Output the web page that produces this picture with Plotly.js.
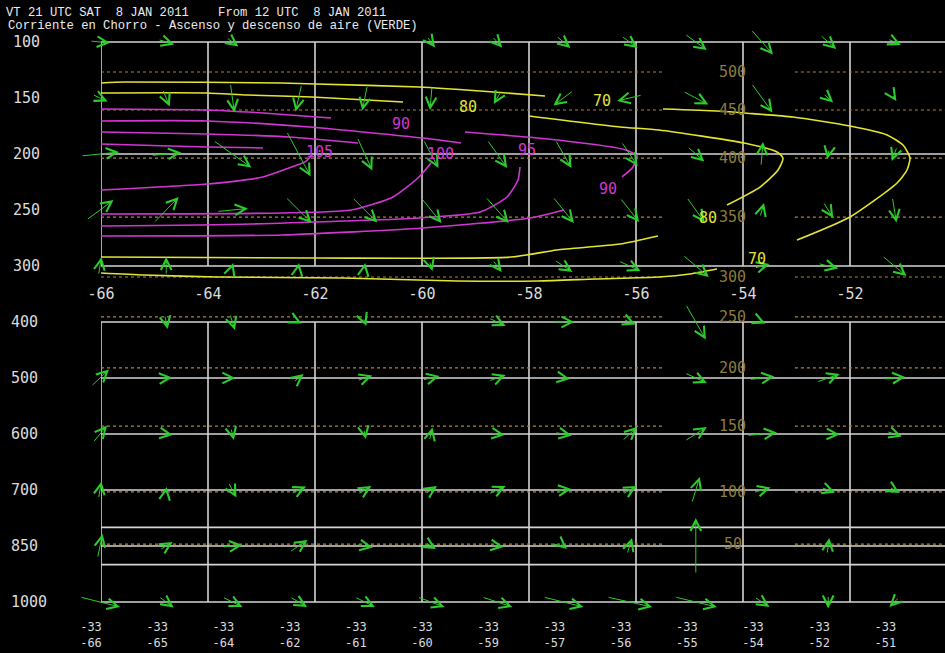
<!DOCTYPE html>
<html><head><meta charset="utf-8">
<script src="https://cdn.plot.ly/plotly-3.0.1.min.js"></script>
<style>html,body{margin:0;padding:0;background:#000;}#chart{width:945px;height:653px;}</style>
</head><body><div id="chart"></div>
<script>
// ---------------- DATA ----------------
const titleLine1 = 'VT 21 UTC SAT  8 JAN 2011    From 12 UTC  8 JAN 2011';
const titleLine2 = 'Corriente en Chorro - Ascenso y descenso de aire (VERDE)';

const topLevels = [100, 150, 200, 250, 300];          // hPa, upper panel rows
const topGridLevels = [100, 200, 300];
const bottomLevels = [400, 500, 600, 700, 850, 1000]; // hPa, lower panel rows
const bottomExtraLines = [800, 900];
const lonTicks = [-66, -64, -62, -60, -58, -56, -54, -52];
const sectionLat = [-33, -33, -33, -33, -33, -33, -33, -33, -33, -33, -33, -33, -33];
const sectionLon = [-66, -65, -64, -62, -61, -60, -59, -57, -56, -55, -54, -52, -51];

// flight levels (dotted) and the pressure where they sit
const flTopLabels = [500, 450, 400, 350, 300];
const flTopPres   = [126.8, 160.7, 203.6, 256.3, 309.8];
const flBotLabels = [250, 200, 150, 100, 50];
const flBotPres   = [391, 482, 586, 705, 845];

// isotachs (kt): lon / pressure, null separates label gaps
const iso70Lon  = [-66, -65.551, -62.617, -61.981, -60.056, -58.916, -57.701, null,
  -55.495, -54.486, -53.981, -53.065, -52.0, -51.308, -51.009, -50.879, -50.935, -51.121, -52.0, -52.991, null,
  -54.486, -54.991, -55.570, -56.766, -57.832, -59.346, -61.477, -63.832, -65.196, -66];
const iso70Pres = [136.6, 135.7, 136.6, 137.5, 140.2, 143.7, 148.2, null,
  159.8, 161.6, 163.4, 167.0, 175.0, 183.0, 192.0, 203.6, 214.3, 225.9, 256.2, 276.8, null,
  302.7, 307.1, 309.8, 311.6, 313.4, 313.4, 310.7, 309.8, 308.0, 306.2];
const iso80Lon  = [-66, -64.019, -63.271, -62.056, -60.355, null,
  -58.0, -56.299, -55.570, -53.981, -53.364, -53.252, -53.346, -53.682, -54.299, null,
  -55.589, -56.299, -57.477, -58.336, -61.981, -66];
const iso80Pres = [145.5, 145.5, 147.3, 149.1, 153.6, null,
  166.1, 175.9, 178.6, 190.2, 198.2, 203.6, 214.3, 229.5, 245.5, null,
  273.2, 280.4, 285.7, 292.0, 292.9, 292.0];
const iso90Lon  = [-66, -64.019, -62.972, -61.701, null,
  -59.196, -57.458, -56.187, -55.981, -56.056, -56.262, null,
  -57.346, -57.981, -59.981, -62.617, -66];
const iso90Pres = [159.8, 160.7, 163.4, 167.9, null,
  180.4, 187.5, 196.4, 201.8, 211.6, 220.5, null,
  250.0, 257.1, 266.1, 272.3, 273.2];
const iso95Lon  = [-66, -64.019, -62.112, -59.981, -59.271, null,
  -58.168, -58.206, -58.411, -58.916, -60.056, -63.196, -66];
const iso95Pres = [170.5, 170.5, 175.9, 185.7, 190.2, null,
  211.6, 223.2, 238.4, 251.8, 257.1, 262.5, 264.3];
const iso100Lon  = [-66, -64.019, -62.486, -61.196, null, -59.832, -60.056, -60.542, -61.327, -62.617, -66];
const iso100Pres = [180.4, 182.1, 184.8, 190.2, null, 208.0, 220.5, 238.4, 250.0, 252.7, 253.6];
const iso105Lon  = [-66, -64.710, -64.019, -62.972, null, -62.056, -62.187, -62.486, -62.972, -64.019, -66];
const iso105Pres = [191.1, 192.9, 193.7, 194.6, null, 200.9, 207.1, 212.5, 220.5, 226.8, 232.1];

const isoLabelText = ['70', '80', '70', '80', '90', '105', '100', '95', '90'];
const isoLabelLon  = [-56.64, -59.14, -53.74, -54.65, -60.39, -61.91, -59.66, -58.04, -56.53];
const isoLabelPres = [152.7, 157.8, 294.0, 256.8, 173.5, 197.9, 200.0, 196.4, 231.5];

// wind vectors (u east, v up), per row, per section point
const windTopU = [
  [20, 16, 12, 1, 2, 8, 10, 14, 16, 22, 22, 16, 13],
  [15, 7, 4, -6, -5, -2, -7, -20, -25, 25, 21, 10, 4],
  [38, 30, 38, 24, 15, 15, 20, 16, 16, 17, 2, -2, -5],
  [27, 25, 31, 26, 25, 21, 23, 21, 19, 18, 4, 10, 4],
  [3, 0, 2, 1, 1, 3, 9, 18, 22, 26, 15, 20, 24]];
const windTopV = [
  [-2, -5, -9, -5, -5, -11, -11, -12, -12, -16, -25, -14, -6],
  [-7, -17, -29, -27, -25, -24, -12, -15, -6, -13, -29, -9, -6],
  [4, 3, -27, -45, -33, -28, -28, -28, -24, -15, 24, -10, -14],
  [20, 26, 3, -26, -25, -26, -26, -26, -24, -25, 14, -16, -25],
  [18, 18, 6, 6, 6, -10, -12, -12, -10, -22, 4, -5, -20]];
const windBotU = [
  [0, 3, 5, 6, 3, 0, 17, 22, 12, 20, 7, 5, 5],
  [18, 12, 6, 10, 15, 17, 17, 13, 5, 22, 25, 23, 22],
  [14, 13, 3, 2, 2, 3, 15, 17, 15, 22, 30, 23, 15],
  [3, 1, 8, 15, 13, 12, 17, 16, 14, 8, 17, 14, 10],
  [5, 13, 20, 18, 16, 10, 13, 7, 5, 0, 1, 2, 5],
  [40, 15, 20, 17, 20, 27, 30, 40, 45, 42, 15, 0, -10]];
const windBotV = [
  [0, -14, -16, -3, -8, 0, -8, 0, -5, -35, -3, -2, -2],
  [17, 1, 0, 8, 5, 4, 6, -2, 0, -10, 3, 8, 2],
  [17, -2, -12, -2, -10, 13, -2, -3, 14, 14, 3, -1, -5],
  [17, 6, -15, 7, 8, 8, 8, 2, 8, 26, 5, -5, -6],
  [24, 8, 2, 12, -3, -6, -2, -6, 16, 56, 0, 16, 0],
  [-10, -11, -10, -10, -10, -10, -10, -10, -10, -10, -10, -13, -10]];

// ---------------- GEOMETRY ----------------
const W = 945, H = 653;
const LON0_PX = 101, PX_PER_DEG = 53.5;
const COL0_PX = 100, COL_PX = 66.2;
const ROW_PX = 56;
const TOP0_PX = 42, BOT0_PX = 322;
const topPAtPx = py => 100 + (py - TOP0_PX) * 50 / ROW_PX;
const botJAtPx = py => (py - BOT0_PX) / ROW_PX;
const xMax = -66 + (W - LON0_PX) / PX_PER_DEG;
function lvl(p) {
  const L = bottomLevels;
  if (p <= L[1]) return (p - L[0]) / (L[1] - L[0]);
  for (let i = 1; i < L.length; i++) if (p <= L[i]) return i - 1 + (p - L[i - 1]) / (L[i] - L[i - 1]);
  const n = L.length - 1; return n + (p - L[n]) / (L[n] - L[n - 1]);
}

const WHITE = '#d4d4d4', YEL = '#e4e432', MAG = '#d236d2', GRN = '#2ccc2c', FLC = '#a8863a', FLT = '#8c7c3a';
const LCD = 'DejaVu Sans Mono, monospace';

const traces = [];
function addLines(xs, ys, xa, ya, color, width, dash) {
  traces.push({type: 'scatter', mode: 'lines', x: xs, y: ys, xaxis: xa, yaxis: ya,
    line: {color: color, width: width, dash: dash || 'solid'}, hoverinfo: 'skip', showlegend: false, connectgaps: false});
}

// white grid, upper panel
(function () {
  const xs = [], ys = [];
  lonTicks.forEach(l => { xs.push(l, l, null); ys.push(topGridLevels[0], topGridLevels[topGridLevels.length - 1], null); });
  topGridLevels.forEach(p => { xs.push(-66, xMax, null); ys.push(p, p, null); });
  addLines(xs, ys, 'x', 'y', WHITE, 1.6);
})();
// white grid, lower panel (lon axis x3 on the lower panel)
(function () {
  const xs = [], ys = [];
  lonTicks.forEach(l => { xs.push(l, l, null); ys.push(lvl(bottomLevels[0]), lvl(bottomLevels[bottomLevels.length - 1]), null); });
  bottomLevels.concat(bottomExtraLines).forEach(p => { xs.push(-66, xMax, null); ys.push(lvl(p), lvl(p), null); });
  addLines(xs, ys, 'x3', 'y2', WHITE, 1.6);
})();
// flight level dotted lines
const flLabelLon = -54.19, gapL = -55.49, gapR = -53.03;
(function () {
  let xs = [], ys = [];
  flTopPres.forEach(p => { xs.push(-66, gapL, null, gapR, xMax, null); ys.push(p, p, null, p, p, null); });
  addLines(xs, ys, 'x', 'y', FLC, 1.2, '3px,3px');
  xs = []; ys = [];
  flBotPres.forEach(p => { const j = lvl(p); xs.push(-66, gapL, null, gapR, xMax, null); ys.push(j, j, null, j, j, null); });
  addLines(xs, ys, 'x3', 'y2', FLC, 1.2, '3px,3px');
})();
// isotachs
[[iso70Lon, iso70Pres, YEL], [iso80Lon, iso80Pres, YEL], [iso90Lon, iso90Pres, MAG],
 [iso95Lon, iso95Pres, MAG], [iso100Lon, iso100Pres, MAG], [iso105Lon, iso105Pres, MAG]].forEach(c => {
  traces.push({type: 'scatter', mode: 'lines', x: c[0], y: c[1], xaxis: 'x', yaxis: 'y',
    line: {color: c[2], width: 1.6, shape: 'spline', smoothing: 0.6}, hoverinfo: 'skip', showlegend: false, connectgaps: false});
});
// section points (bottom panel anchor for the index axis)
(function () {
  const xs = [], ys = [];
  bottomLevels.forEach((p, r) => sectionLon.forEach((l, k) => { xs.push(k); ys.push(lvl(p)); }));
  traces.push({type: 'scatter', mode: 'markers', x: xs, y: ys, xaxis: 'x2', yaxis: 'y2',
    marker: {size: 1, color: 'rgba(0,0,0,0)'}, hoverinfo: 'skip', showlegend: false});
})();

const annotations = [];
// wind arrows
function addWinds(levels, U, V, yref, toY, perPxY) {
  levels.forEach((p, r) => {
    U[r].forEach((u, k) => {
      const v = V[r][k];
      if (u === 0 && v === 0) return;
      const y0 = toY(p);
      const dx = (u / 2) / COL_PX, dy = (v / 2) * perPxY;
      annotations.push({xref: 'x2', yref: yref, axref: 'x2', ayref: yref,
        x: k + dx, y: y0 - dy, ax: k - dx, ay: y0 + dy, text: '', showarrow: true,
        arrowhead: 5, arrowsize: 2.1, arrowwidth: 1, arrowcolor: GRN, standoff: 0, startstandoff: 0});
    });
  });
}
addWinds(topLevels, windTopU, windTopV, 'y', p => p, 50 / ROW_PX);
addWinds(bottomLevels, windBotU, windBotV, 'y2', p => lvl(p), 1 / ROW_PX);

// isotach labels
isoLabelText.forEach((t, i) => {
  annotations.push({xref: 'x', yref: 'y', x: isoLabelLon[i], y: isoLabelPres[i], text: t, showarrow: false,
    font: {family: LCD, size: 15, color: (+t >= 85 ? MAG : YEL)}, xanchor: 'center', yanchor: 'middle'});
});
// flight level labels
flTopLabels.forEach((t, i) => annotations.push({xref: 'x', yref: 'y', x: flLabelLon, y: flTopPres[i], text: String(t),
  showarrow: false, font: {family: LCD, size: 15, color: FLT}, xanchor: 'center', yanchor: 'middle'}));
flBotLabels.forEach((t, i) => annotations.push({xref: 'x3', yref: 'y2', x: flLabelLon, y: lvl(flBotPres[i]), text: String(t),
  showarrow: false, font: {family: LCD, size: 15, color: FLT}, xanchor: 'center', yanchor: 'middle'}));
// pressure labels
topLevels.forEach(p => annotations.push({xref: 'paper', yref: 'y', x: 11 / W, y: p, text: String(p), showarrow: false,
  xanchor: 'left', yanchor: 'middle', font: {family: LCD, size: 15, color: '#dcdcdc'}}));
bottomLevels.forEach(p => annotations.push({xref: 'paper', yref: 'y2', x: 9 / W, y: lvl(p), text: String(p), showarrow: false,
  xanchor: 'left', yanchor: 'middle', font: {family: LCD, size: 15, color: '#dcdcdc'}}));
// second title line
annotations.push({xref: 'paper', yref: 'paper', x: 6 / W, y: 1 - 26 / H, xanchor: 'left', yanchor: 'middle',
  text: titleLine2.replace(/ /g, '\u00a0'), showarrow: false, font: {family: 'Liberation Mono, monospace', size: 12.2, color: '#ececec'}});

const noAxis = {showgrid: false, zeroline: false, showline: false, ticks: ''};
const layout = {
  width: W, height: H, margin: {l: 0, r: 0, t: 0, b: 0, pad: 0},
  paper_bgcolor: '#000', plot_bgcolor: '#000', showlegend: false, hovermode: false,
  title: {text: titleLine1.replace(/ /g, '\u00a0'), x: 6 / W, xanchor: 'left', y: 1 - 12 / H, yanchor: 'middle',
    font: {family: 'Liberation Mono, monospace', size: 12.2, color: '#ececec'}},
  xaxis: Object.assign({domain: [LON0_PX / W, 1], range: [-66, xMax], anchor: 'y',
    tickvals: lonTicks, ticktext: lonTicks.map(v => String(v)),
    tickfont: {family: LCD, size: 15, color: '#dcdcdc'}}, noAxis),
  yaxis: Object.assign({domain: [1 - 283 / H, 1 - 30 / H], range: [topPAtPx(283), topPAtPx(30)], anchor: 'x',
    showticklabels: false}, noAxis),
  xaxis2: Object.assign({domain: [0, 1], range: [-COL0_PX / COL_PX, (W - COL0_PX) / COL_PX], anchor: 'y2',
    tickvals: sectionLon.map((l, k) => k),
    ticktext: sectionLon.map((l, k) => String(sectionLat[k]) + '<br>' + String(l)), ticklabelshift: -9,
    tickfont: {family: LCD, size: 12, color: '#dcdcdc'}}, noAxis),
  xaxis3: Object.assign({domain: [LON0_PX / W, 1], range: [-66, xMax], anchor: 'y2', showticklabels: false}, noAxis),
  yaxis2: Object.assign({domain: [1 - 618 / H, 1 - 305 / H], range: [botJAtPx(618), botJAtPx(305)], anchor: 'x2',
    showticklabels: false}, noAxis),
  annotations: annotations
};

Plotly.newPlot('chart', traces, layout, {displayModeBar: false, staticPlot: true});
</script>
</body></html>
